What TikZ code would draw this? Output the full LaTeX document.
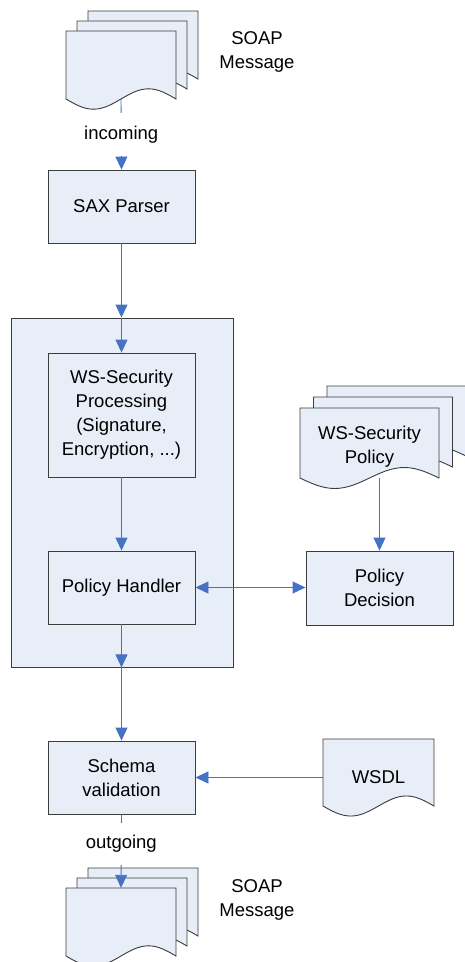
\documentclass[tikz,border=0pt]{standalone}
\usepackage{fontspec}
\setmainfont{Liberation Sans}
\usetikzlibrary{arrows.meta}
\definecolor{boxfill}{RGB}{232,238,247}
\definecolor{edgegray}{RGB}{60,60,60}
\definecolor{flowblue}{RGB}{70,114,196}

% one sheet with a wavy lower edge: left, top, width, height
\newcommand{\docpage}[4]{%
  \draw[sheet] (#1,#2) -- (#1+#3,#2) -- (#1+#3,#2+#4)
    sin (#1+0.75*#3,#2+#4-0.15*#4) cos (#1+0.5*#3,#2+#4)
    sin (#1+0.25*#3,#2+#4+0.15*#4) cos (#1,#2+#4) -- cycle;}
% three sheets, the front one last
\newcommand{\docstack}[6]{%
  \docpage{#1+2*#5}{#2-2*#6}{#3}{#4}%
  \docpage{#1+#5}{#2-#6}{#3}{#4}%
  \docpage{#1}{#2}{#3}{#4}}

\begin{document}
\begin{tikzpicture}[x=1pt,y=-1pt,
   every node/.style={font=\fontsize{18.5}{24}\selectfont},
   sheet/.style={draw=edgegray, fill=boxfill, line width=0.9pt},
   procbox/.style={draw=edgegray, fill=boxfill, line width=0.9pt, align=center,
      inner sep=0pt, minimum width=147, minimum height=73},
   docarea/.style={inner sep=0pt, align=center, minimum width=#1},
   flow/.style={draw=flowblue, line width=0.9pt, -{Triangle[width=12pt,length=13pt]}},
   flowboth/.style={flow, {Triangle[width=12pt,length=13pt]}-{Triangle[width=12pt,length=13pt]}},
   flowlabel/.style={fill=white, inner xsep=2pt, inner ysep=12.5pt}]
   \useasboundingbox (0,0) rectangle (464,962);
   % frame round the security part
   \node[procbox, minimum width=222, minimum height=349] (engine) at (122,492.5) {};

   \docstack{66}{31}{110}{68}{11}{10}
   \node[docarea=110, minimum height=68] (soapin) at (121,65) {};
   \node[align=center] (soapinlbl) at (257,52) {SOAP\\Message};

   \node[procbox] (sax) at (121.5,206.5) {SAX Parser};
   \node[procbox, minimum height=124] (wssec) at (121.5,415)
      {WS-Security\\Processing\\(Signature,\\Encryption, ...)};
   \node[procbox] (handler) at (121.5,587.5) {Policy Handler};
   \node[procbox] (schema) at (121.5,777.5) {Schema\\validation};

   \docstack{300}{408}{139}{70}{13.5}{11}
   \node[docarea=139, minimum height=62] (wspolicy) at (369.5,447) {WS-Security\\Policy};
   \node[procbox, minimum height=74] (decision) at (379.5,588) {Policy\\Decision};

   \docpage{323}{739}{111}{67}
   \node[docarea=111, minimum height=58] (wsdl) at (378.5,777) {WSDL};

   \docstack{66}{888}{110}{68}{11}{10}
   \node[docarea=110, minimum height=68] (soapout) at (121,922) {};
   \node[align=center] (soapoutlbl) at (257,900) {SOAP\\Message};

   % connectors
   \draw[flow] (soapin.south) -- node[flowlabel] (inlbl) {incoming} (sax.north);
   \draw[flow] (sax.south) -- (sax.south |- engine.north);
   \draw[flow] (wssec.north |- engine.north) -- (wssec.north);
   \draw[flow] (wssec) -- (handler);
   \draw[flow] (handler.south) -- (handler.south |- engine.south);
   \draw[flow] (schema.north |- engine.south) -- (schema.north);
   \draw[flow] (schema.south) -- node[flowlabel, pos=0.4] (outlbl) {outgoing} (soapout.north);
   \draw[flow] (decision.north |- wspolicy.south) -- (decision.north);
   \draw[flowboth] (handler.east) -- (handler.east -| decision.west);
   \draw[flow] (wsdl.west |- schema.east) -- (schema.east);
\end{tikzpicture}
\end{document}
